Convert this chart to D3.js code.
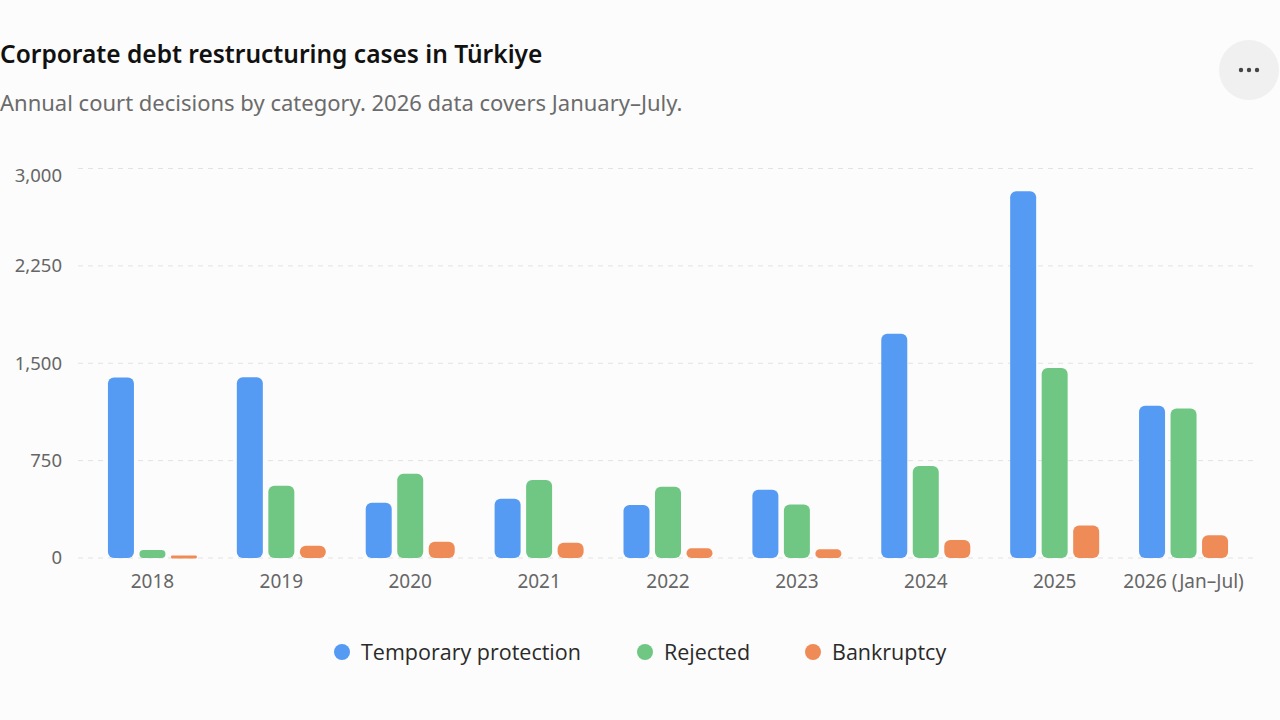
<!DOCTYPE html>
<html>
<head>
<meta charset="utf-8">
<script src="https://cdn.jsdelivr.net/npm/d3@7/dist/d3.min.js"></script>
<style>
  html, body { margin: 0; padding: 0; background: #fcfcfc; }
  svg { display: block; font-family: "Open Sans", "Noto Sans", sans-serif; }
</style>
</head>
<body>
<svg width="1280" height="720"></svg>
<script>
// data
const years = ['2018', '2019', '2020', '2021', '2022', '2023', '2024', '2025', '2026 (Jan\u2013Jul)'];
const protection = [1390, 1392, 425, 456, 408, 525, 1728, 2825, 1172];
const rejected = [62, 556, 648, 600, 549, 413, 708, 1464, 1152];
const bankruptcy = [20, 95, 125, 118, 75, 67, 138, 251, 175];
const seriesNames = ['Temporary protection', 'Rejected', 'Bankruptcy'];
const seriesColors = ['#559af3', '#6fc783', '#ee8b57'];
const yTicks = [0, 750, 1500, 2250, 3000];

const svg = d3.select('svg');

// header
svg.append('text')
  .attr('x', 0).attr('y', 63)
  .attr('font-size', 24.5).attr('font-weight', 600).attr('fill', '#111')
  .attr('font-family', '"Noto Sans", sans-serif')
  .text('Corporate debt restructuring cases in T\u00fcrkiye');
svg.append('text')
  .attr('x', 0).attr('y', 111)
  .attr('font-size', 22).attr('fill', '#6b6b6b')
  .attr('font-family', '"Noto Sans", sans-serif')
  .text('Annual court decisions by category. 2026 data covers January\u2013July.');

// menu button
const btn = svg.append('g').attr('transform', 'translate(1249,70)');
btn.append('circle').attr('r', 30).attr('fill', '#f0f0f0');
btn.selectAll('circle.dot').data([-8, 0, 8]).enter()
  .append('circle').attr('class', 'dot')
  .attr('cx', d => d).attr('r', 2.2).attr('fill', '#444');

// scales
const x = d3.scaleBand().domain(years).range([88, 1248]);
const series = d3.scaleBand().domain(seriesNames).range([0, x.bandwidth()]).paddingInner(0.175).paddingOuter(0.633);
const y = d3.scaleLinear().domain([0, 3000]).range([558, 168.5]);
const color = d3.scaleOrdinal().domain(seriesNames).range(seriesColors);

// grid
svg.append('g')
  .selectAll('line').data(yTicks).enter().append('line')
  .attr('x1', 78).attr('x2', 1255)
  .attr('y1', d => y(d)).attr('y2', d => y(d))
  .attr('stroke', '#e2e2e2').attr('stroke-dasharray', '5,5');

// y axis labels (top one nudged down like the original)
const yAxis = svg.append('g')
  .attr('transform', 'translate(62,0)')
  .call(d3.axisLeft(y).tickValues(yTicks).tickSize(0).tickPadding(0).tickFormat(d3.format(',')))
  .attr('font-family', '"Noto Sans", sans-serif');
yAxis.select('.domain').remove();
yAxis.selectAll('text')
  .attr('font-size', 18.5).attr('fill', '#666')
  .attr('transform', d => d === 3000 ? 'translate(0,7)' : null);

// x axis labels
const xAxis = svg.append('g')
  .attr('transform', 'translate(0,570)')
  .call(d3.axisBottom(x).tickSize(0).tickPadding(0))
  .attr('font-family', '"Noto Sans", sans-serif');
xAxis.select('.domain').remove();
xAxis.selectAll('text').attr('font-size', 19).attr('fill', '#666').attr('dy', '0.95em');

// bars
const rows = years.map((yr, i) => ({
  year: yr,
  values: [protection[i], rejected[i], bankruptcy[i]].map((v, j) => ({ key: seriesNames[j], value: v }))
}));

const groups = svg.append('g')
  .selectAll('g').data(rows).enter().append('g')
  .attr('transform', d => 'translate(' + x(d.year) + ',0)');

groups.selectAll('rect').data(d => d.values).enter().append('rect')
  .attr('x', d => series(d.key))
  .attr('width', series.bandwidth())
  .attr('y', d => y(d.value))
  .attr('height', d => Math.max(3, y(0) - y(d.value)))
  .attr('rx', d => Math.min(6, (y(0) - y(d.value)) / 2))
  .attr('fill', d => color(d.key));

// legend
const legendX = [342, 645, 813];
const legend = svg.append('g')
  .selectAll('g').data(seriesNames).enter().append('g')
  .attr('transform', (d, i) => 'translate(' + legendX[i] + ',652)');
legend.append('circle').attr('r', 8).attr('fill', d => color(d));
legend.append('text')
  .attr('x', 19).attr('dy', '0.35em')
  .attr('font-size', 21.5).attr('fill', '#2a2a2a')
  .text(d => d);
</script>
</body>
</html>
